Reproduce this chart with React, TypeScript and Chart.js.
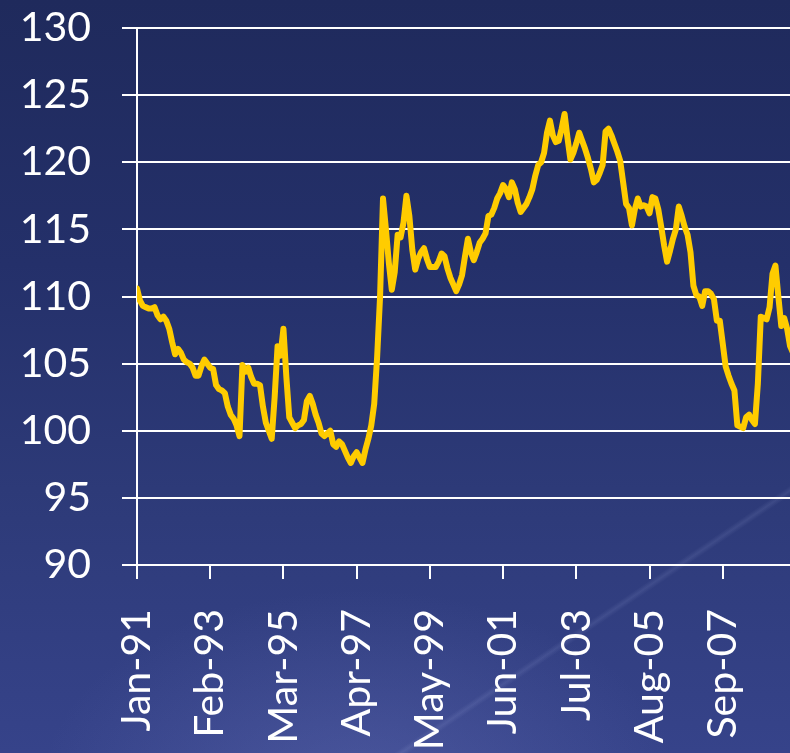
import React, { useEffect, useRef } from "react";
import { Chart, registerables } from "chart.js";

Chart.register(...registerables);

// Monthly index values starting Jan-91
const values: number[] = [
  110.6, 109.7, 109.3, 109.2, 109.1, 109.1, 109.2, 108.6, 108.3, 108.5,
  108.2, 107.6, 106.6, 105.7, 106.1, 105.8, 105.3, 105.1, 105.0, 104.7,
  104.1, 104.1, 104.8, 105.3, 105.0, 104.7, 104.6, 103.4, 103.1, 103.0,
  102.8, 101.8, 101.2, 100.9, 100.4, 99.6, 104.9, 104.4, 104.7, 104.0,
  103.5, 103.5, 103.4, 101.8, 100.6, 100.0, 99.4, 102.5, 106.3, 105.6,
  107.6, 104.0, 101.0, 100.6, 100.2, 100.4, 100.5, 100.8, 102.2, 102.6,
  102.0, 101.2, 100.6, 99.8, 99.6, 99.8, 100.0, 99.0, 98.8, 99.2,
  99.0, 98.5, 98.0, 97.6, 98.1, 98.4, 98.0, 97.6, 98.6, 99.4,
  100.4, 102.0, 105.5, 110.0, 117.3, 115.0, 112.5, 110.5, 111.8, 114.6,
  114.4, 115.5, 117.5, 116.0, 113.5, 112.0, 112.8, 113.3, 113.6, 112.8,
  112.2, 112.2, 112.2, 112.6, 113.2, 113.0, 112.1, 111.4, 110.9, 110.4,
  110.9, 111.6, 113.0, 114.3, 113.3, 112.7, 113.3, 114.0, 114.3, 114.7,
  116.0, 116.1, 116.6, 117.3, 117.7, 118.3, 118.0, 117.4, 118.5, 118.0,
  117.0, 116.3, 116.6, 116.9, 117.4, 118.0, 119.0, 119.8, 120.0, 120.7,
  122.2, 123.1, 122.0, 121.5, 121.6, 122.5, 123.6, 121.8, 120.2, 120.7,
  121.4, 122.2, 121.6, 121.0, 120.3, 119.5, 118.5, 118.7, 119.2, 119.8,
  122.3, 122.5, 122.0, 121.4, 120.8, 120.1, 118.5, 116.9, 116.6, 115.3,
  116.5, 117.3, 116.7, 116.8, 116.7, 116.2, 117.4, 117.3, 116.5, 115.2,
  113.8, 112.6, 113.4, 114.3, 115.0, 116.7, 116.0, 115.2, 114.6, 113.3,
  110.8, 110.1, 110.0, 109.3, 110.4, 110.4, 110.2, 109.8, 108.2, 108.2,
  106.5, 104.8, 104.1, 103.5, 103.0, 100.4, 100.3, 100.2, 101.0, 101.2,
  100.8, 100.5, 103.5, 108.5, 108.4, 108.3, 109.2, 111.7, 112.3, 110.0,
  107.8, 108.4, 107.6, 106.3, 105.8,
];

// Axis labels, one every 25 months
const tickLabels: string[] = [
  "Jan-91", "Feb-93", "Mar-95", "Apr-97", "May-99",
  "Jun-01", "Jul-03", "Aug-05", "Sep-07",
];
const labelStep = 25;

const yMin = 90;
const yMax = 130;
const yStep = 5;

const CANVAS_W = 793;
const CANVAS_H = 800;
const PLOT_LEFT = 137;
const PLOT_TOP = 28;
const PLOT_BOTTOM = 565;

export default function App() {
  const ref = useRef<HTMLCanvasElement | null>(null);

  useEffect(() => {
    const canvas = ref.current;
    if (!canvas) return;
    const font = { family: "Lato, 'Open Sans', sans-serif", size: 41 };
    const chart = new Chart(canvas, {
      type: "line",
      data: {
        datasets: [
          {
            data: values.map((v, i) => ({ x: i, y: v })),
            borderColor: "#FFCC00",
            borderWidth: 6,
            pointRadius: 0,
            tension: 0,
            fill: false,
            borderJoinStyle: "round",
            borderCapStyle: "round",
          },
        ],
      },
      options: {
        responsive: false,
        animation: false,
        layout: { padding: { top: PLOT_TOP, left: 0, right: 0, bottom: 0 } },
        plugins: {
          legend: { display: false },
          tooltip: { enabled: false },
        },
        scales: {
          x: {
            type: "linear",
            min: 0,
            max: values.length - 1,
            afterFit: (s: any) => {
              s.height = CANVAS_H - PLOT_BOTTOM;
              s.paddingLeft = 0;
              s.paddingRight = 0;
            },
            afterBuildTicks: (s: any) => {
              s.ticks = tickLabels.map((_, i) => ({ value: i * labelStep }));
            },
            ticks: {
              autoSkip: false,
              minRotation: 90,
              maxRotation: 90,
              color: "#ffffff",
              font,
              padding: 30,
              callback: (v: any) => tickLabels[Math.round(Number(v) / labelStep)] ?? "",
            },
            grid: {
              display: true,
              drawOnChartArea: false,
              drawTicks: true,
              tickLength: 14,
              color: "#ffffff",
              lineWidth: 2,
            },
            border: { display: true, color: "#ffffff", width: 2 },
          },
          y: {
            min: yMin,
            max: yMax,
            afterFit: (s: any) => {
              s.width = PLOT_LEFT;
              s.paddingTop = 0;
              s.paddingBottom = 0;
            },
            ticks: {
              stepSize: yStep,
              color: "#ffffff",
              font,
              padding: 31,
            },
            grid: {
              color: "#ffffff",
              lineWidth: 2,
              drawTicks: true,
              tickLength: 15,
            },
            border: { display: true, color: "#ffffff", width: 2 },
          },
        },
      },
    });
    return () => chart.destroy();
  }, []);

  return (
    <div
      style={{
        position: "absolute",
        left: 0,
        top: 0,
        width: 790,
        height: 753,
        overflow: "hidden",
        background:
          "linear-gradient(146deg, rgba(255,255,255,0) 79.2%, rgba(200,210,255,0.1) 79.6%, rgba(255,255,255,0) 80.0%)," +
          "radial-gradient(ellipse 320px 200px at 360px 790px, rgba(110,120,190,0.35), rgba(110,120,190,0))," +
          "linear-gradient(180deg, #1f2a5c 0%, #24306a 35%, #2d3a78 65%, #36438a 100%)",
      }}
    >
      <canvas
        ref={ref}
        width={CANVAS_W}
        height={CANVAS_H}
        style={{ display: "block" }}
      />
    </div>
  );
}
